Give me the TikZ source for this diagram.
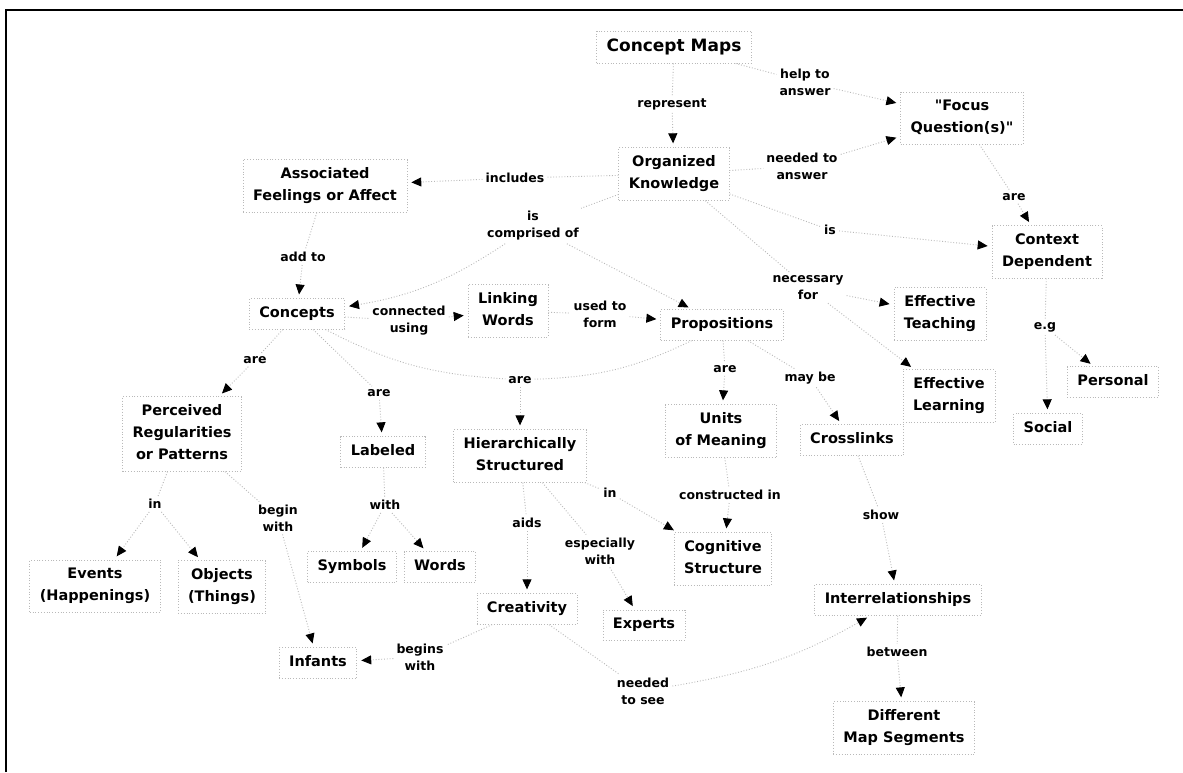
\documentclass[tikz,border=0pt]{standalone}
\usepackage{fontspec}
\setmainfont{DejaVu Sans}[Ligatures=TeXOff]
\usetikzlibrary{arrows.meta}
\newcommand\cptstrut{\rule[-3.5pt]{0pt}{14pt}}
\begin{document}
\begin{tikzpicture}[x=1pt,y=-1pt,
  link/.style={draw=gray!55, line width=0.9pt, dash pattern=on 0.9pt off 1.9pt},
  arr/.style={link, -{Triangle[length=10pt,width=9pt,color=black]}, shorten >=4pt},
  concept/.style={draw=gray!55, line width=0.8pt, dash pattern=on 0.9pt off 1.9pt,
    font=\fontsize{14.5}{22}\selectfont\bfseries, align=center,
    inner xsep=10pt, inner ysep=8pt, execute at begin node=\cptstrut},
  title/.style={concept, font=\fontsize{17}{22}\selectfont\bfseries},
  phrase/.style={font=\fontsize{12.5}{17}\selectfont\bfseries, align=center, inner sep=3pt}
]
\useasboundingbox (0,0) rectangle (1183,772);
\fill[white] (0,0) rectangle (1183,772);
% frame along the top and left edges
\draw[line width=2.5pt] (6,772) -- (6,10) -- (1183,10);

% concepts
\node[title]   (cmap)      at (674,47)  {Concept Maps};
\node[concept] (ok)        at (674,174) {Organized\\Knowledge};
\node[concept] (assoc)     at (325,186) {Associated\\Feelings or Affect};
\node[concept] (focus)     at (962,118) {"Focus\\Question(s)"};
\node[concept] (context)   at (1047,252) {Context\\Dependent};
\node[concept] (concepts)  at (297,314) {Concepts};
\node[concept] (linking)   at (508,311) {Linking\\Words};
\node[concept] (props)     at (722,325) {Propositions};
\node[concept] (teach)     at (940,314) {Effective\\Teaching};
\node[concept] (learn)     at (949,396) {Effective\\Learning};
\node[concept] (personal)  at (1113,382) {Personal};
\node[concept] (social)    at (1048,429) {Social};
\node[concept] (perceived) at (182,434) {Perceived\\Regularities\\or Patterns};
\node[concept] (labeled)   at (383,452) {Labeled};
\node[concept] (hier)      at (520,456) {Hierarchically\\Structured};
\node[concept] (units)     at (721,431) {Units\\of Meaning};
\node[concept] (cross)     at (852,440) {Crosslinks};
\node[concept] (events)    at (95,586)  {Events\\(Happenings)};
\node[concept] (objects)   at (222,587) {Objects\\(Things)};
\node[concept] (symbols)   at (352,567) {Symbols};
\node[concept] (words)     at (440,567) {Words};
\node[concept] (cog)       at (723,559) {Cognitive\\Structure};
\node[concept] (creat)     at (527,609) {Creativity};
\node[concept] (experts)   at (644,625) {Experts};
\node[concept] (inter)     at (898,600) {Interrelationships};
\node[concept] (infants)   at (318,663) {Infants};
\node[concept] (diff)      at (904,728) {Different\\Map Segments};

% linking phrases
\node[phrase] (represent)   at (672,104) {represent};
\node[phrase] (help)        at (805,82)  {help to\\answer};
\node[phrase] (includes)    at (515,178) {includes};
\node[phrase] (needans)     at (802,166) {needed to\\answer};
\node[phrase] (comprised)   at (533,226) {is\\comprised of};
\node[phrase] (isC)         at (830,230) {is};
\node[phrase] (areF)        at (1014,197) {are};
\node[phrase] (necessary)   at (808,288) {necessary\\for};
\node[phrase] (addto)       at (303,257) {add to};
\node[phrase] (connected)   at (409,321) {connected\\using};
\node[phrase] (usedto)      at (600,314) {used to\\form};
\node[phrase] (eg)          at (1045,327) {e.g};
\node[phrase] (areP)        at (255,360) {are};
\node[phrase] (areL)        at (379,393) {are};
\node[phrase] (areH)        at (520,380) {are};
\node[phrase] (areU)        at (725,369) {are};
\node[phrase] (maybe)       at (810,378) {may be};
\node[phrase] (inE)         at (155,504) {in};
\node[phrase] (beginwith)   at (278,518) {begin\\with};
\node[phrase] (with)        at (385,505) {with};
\node[phrase] (aids)        at (527,523) {aids};
\node[phrase] (inC)         at (610,493) {in};
\node[phrase] (constructed) at (730,495) {constructed in};
\node[phrase] (show)        at (881,515) {show};
\node[phrase] (especially)  at (600,551) {especially\\with};
\node[phrase] (begins)      at (420,657) {begins\\with};
\node[phrase] (needsee)     at (643,691) {needed\\to see};
\node[phrase] (between)     at (897,652) {between};

% connectors
\draw[link] (cmap) -- (represent);
\draw[arr]  (represent) -- (ok);
\draw[link] (cmap) -- (help);
\draw[arr]  (help) -- (focus);
\draw[link] (ok) -- (includes);
\draw[arr]  (includes) -- (assoc);
\draw[link] (ok) -- (needans);
\draw[arr]  (needans) -- (focus);
\draw[link] (ok) -- (comprised);
\draw[arr]  (comprised) to[bend left=12] (concepts);
\draw[arr]  (comprised) -- (props);
\draw[link] (ok) -- (isC);
\draw[arr]  (isC) -- (context);
\draw[link] (ok) -- (necessary);
\draw[arr]  (necessary) -- (teach);
\draw[arr]  (necessary) -- (learn);
\draw[link] (focus) -- (areF);
\draw[arr]  (areF) -- (context);
\draw[link] (assoc) -- (addto);
\draw[arr]  (addto) -- (concepts);
\draw[link] (concepts) -- (connected);
\draw[arr]  (connected) -- (linking);
\draw[link] (linking) -- (usedto);
\draw[arr]  (usedto) -- (props);
\draw[link] (concepts) -- (areP);
\draw[arr]  (areP) -- (perceived);
\draw[link] (concepts) -- (areL);
\draw[arr]  (areL) -- (labeled);
\draw[link] (concepts) to[bend right=12] (areH);
\draw[link] (props) to[bend left=12] (areH);
\draw[arr]  (areH) -- (hier);
\draw[link] (props) -- (areU);
\draw[arr]  (areU) -- (units);
\draw[link] (props) -- (maybe);
\draw[arr]  (maybe) -- (cross);
\draw[link] (context) -- (eg);
\draw[arr]  (eg) -- (social);
\draw[arr]  (eg) -- (personal);
\draw[link] (perceived) -- (inE);
\draw[arr]  (inE) -- (events);
\draw[arr]  (inE) -- (objects);
\draw[link] (perceived) -- (beginwith);
\draw[arr]  (beginwith) -- (infants);
\draw[link] (labeled) -- (with);
\draw[arr]  (with) -- (symbols);
\draw[arr]  (with) -- (words);
\draw[link] (hier) -- (aids);
\draw[arr]  (aids) -- (creat);
\draw[link] (hier) -- (especially);
\draw[arr]  (especially) -- (experts);
\draw[link] (hier) -- (inC);
\draw[arr]  (inC) -- (cog);
\draw[link] (units) -- (constructed);
\draw[arr]  (constructed) -- (cog);
\draw[link] (cross) -- (show);
\draw[arr]  (show) -- (inter);
\draw[link] (creat) -- (begins);
\draw[arr]  (begins) -- (infants);
\draw[link] (creat) -- (needsee);
\draw[arr]  (needsee) to[bend right=10] (inter);
\draw[link] (inter) -- (between);
\draw[arr]  (between) -- (diff);
\end{tikzpicture}
\end{document}
